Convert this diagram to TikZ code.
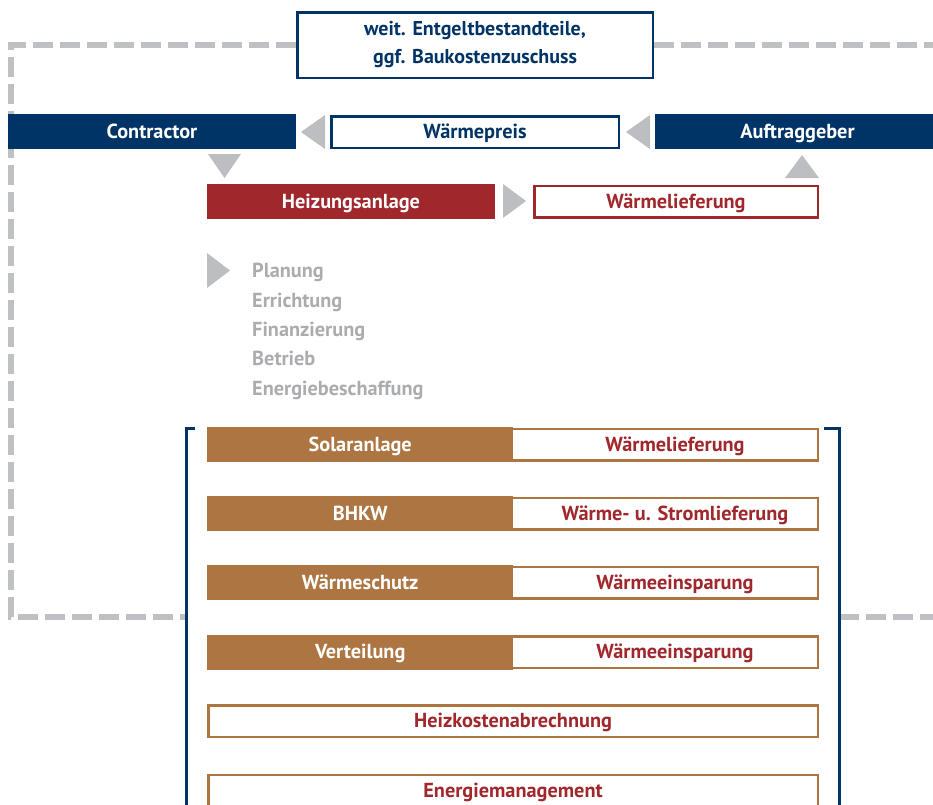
\documentclass[tikz,border=0pt]{standalone}
\usepackage{fontspec}
\setmainfont{PT Sans}
\usetikzlibrary{positioning}
\definecolor{navy}{HTML}{003466}
\definecolor{heizred}{HTML}{A0272B}
\definecolor{brownbar}{HTML}{AD7542}
\definecolor{arrowgray}{HTML}{BDBEC1}
\definecolor{listgray}{HTML}{ABACAF}
\definecolor{dashgray}{HTML}{BFC0C3}

\begin{document}
\begin{tikzpicture}[x=1pt, y=-1pt,
	every node/.style={font=\fontsize{20.3}{24}\selectfont\bfseries, inner sep=0pt, text height=16pt, text depth=3pt},
	bar/.style={fill=#1, text=white, minimum height=35pt},
	frame/.style={draw=#1, line width=2.5pt, fill=white, minimum height=31.5pt},
	dashline/.style={draw=dashgray, line width=5.5pt, dash pattern=on 20pt off 7pt}]
	\useasboundingbox (0,0) rectangle (933,804);
	
	% Gestrichelter Rahmen (hinten)
	\node[frame=navy, minimum width=355.5pt, minimum height=65.5pt, text=navy, align=center,
		text height=, text depth=, font=\fontsize{20}{28}\selectfont\bfseries] (entgelt) at (475,45)
		{weit. Entgeltbestandteile,\\ggf. Baukostenzuschuss};
	\draw[dashline] (entgelt.west) -| (11,617) -- (186,617);
	\draw[dashline] (entgelt.east) -- (940,45);
	\draw[dashline] (839,617) -- (940,617);
	
	% --- Vertragspartner ---
	\node[bar=navy, minimum width=288pt] (contractor) at (152,131.5) {Contractor};
	\node[frame=navy, minimum width=287.5pt, text=navy] (preis) at (475,132) {Wärmepreis};
	\node[bar=navy, minimum width=285pt] (auftrag) at (797.5,131.5) {Auftraggeber};
	
	% Pfeile
	\fill[arrowgray] (325,115) -- (325,149) -- (301,132) -- cycle;
	\fill[arrowgray] (650,115) -- (650,149) -- (626,132) -- cycle;
	\fill[arrowgray] (208,154) -- (241,154) -- (224.5,178) -- cycle;
	\fill[arrowgray] (785,178) -- (819,178) -- (802,155) -- cycle;
	\fill[arrowgray] (503,184) -- (503,218) -- (526,201) -- cycle;
	\fill[arrowgray] (207,253) -- (207,288) -- (230,270.5) -- cycle;
	
	% --- Heizungsanlage ---
	\node[bar=heizred, minimum width=288pt] (heizung) at (351,201.5) {Heizungsanlage};
	\node[frame=heizred, minimum width=283.5pt, text=heizred] (lieferung) at (676,201.5) {Wärmelieferung};
	
	% Leistungen
	\node[anchor=base west, align=left, text=listgray, text height=, text depth=,
		font=\fontsize{20.3}{29.3}\selectfont\bfseries] (leistung) at (252,395)
		{Planung\\Errichtung\\Finanzierung\\Betrieb\\Energiebeschaffung};
	
	% --- Klammer ---
	\draw[navy, line width=3pt] (195,428) -| (186,810);
	\draw[navy, line width=3pt] (824,428) -| (839,810);
	
	% --- Bausteine ---
	\node[frame=brownbar, minimum width=609.5pt] (solar) at (513,444.5) {};
	\node[bar=brownbar, minimum width=306pt, anchor=west] (solarL) at (solar.west) {Solaranlage};
	\node[text=heizred] (solarR) at (675,444.5) {Wärmelieferung};
	
	\node[frame=brownbar, minimum width=609.5pt] (bhkw) at (513,513.5) {};
	\node[bar=brownbar, minimum width=306pt, anchor=west] (bhkwL) at (bhkw.west) {BHKW};
	\node[text=heizred] (bhkwR) at (675,513.5) {Wärme- u. Stromlieferung};
	
	\node[frame=brownbar, minimum width=609.5pt] (schutz) at (513,582.5) {};
	\node[bar=brownbar, minimum width=306pt, anchor=west] (schutzL) at (schutz.west) {Wärmeschutz};
	\node[text=heizred] (schutzR) at (675,582.5) {Wärmeeinsparung};
	
	\node[frame=brownbar, minimum width=609.5pt] (vert) at (513,652) {};
	\node[bar=brownbar, minimum width=306pt, anchor=west] (vertL) at (vert.west) {Verteilung};
	\node[text=heizred] (vertR) at (675,652) {Wärmeeinsparung};
	
	\node[frame=brownbar, minimum width=609.5pt, text=heizred] (abrech) at (513,721) {Heizkostenabrechnung};
	\node[frame=brownbar, minimum width=609.5pt, text=heizred] (mgmt) at (513,790.5) {Energiemanagement};
\end{tikzpicture}
\end{document}
